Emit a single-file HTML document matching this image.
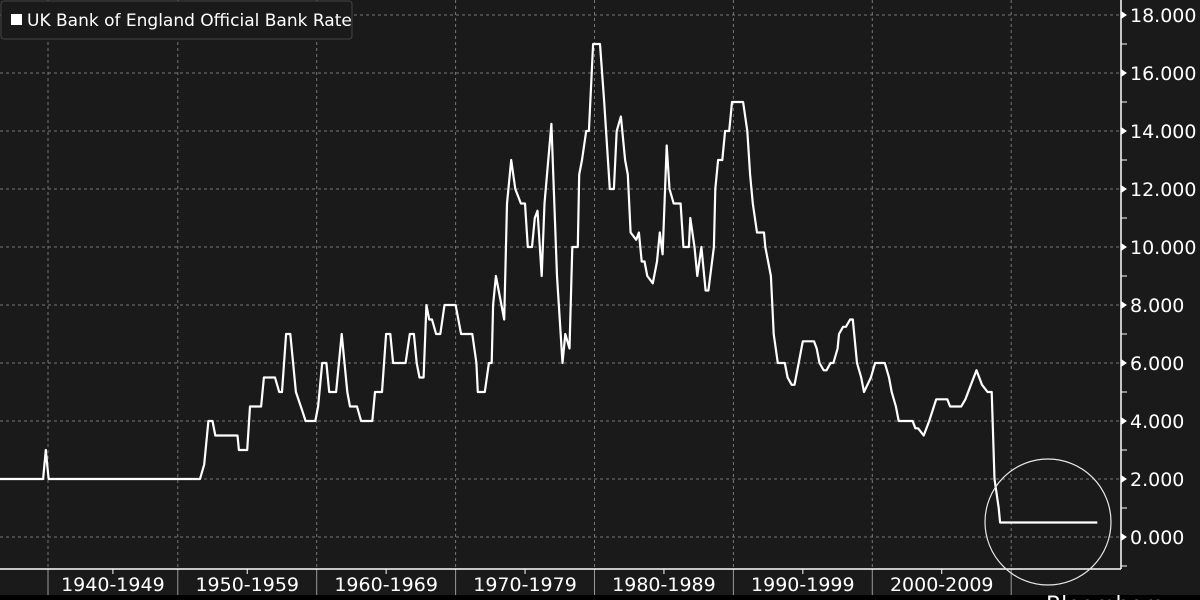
<!DOCTYPE html>
<html><head><meta charset="utf-8"><style>
html,body{margin:0;padding:0;background:#1a1a1a;width:1200px;height:600px;overflow:hidden}
svg{display:block;font-family:"DejaVu Sans","Liberation Sans",sans-serif}
</style></head><body>
<svg id="chart" width="1200" height="600">
<rect x="0" y="0" width="1200" height="600" fill="#1a1a1a"/>
<g id="grid"></g>
<g id="axes"></g>
<path id="line" fill="none" stroke="#ffffff" stroke-width="2.2" stroke-linejoin="round"/>
<circle cx="1048" cy="522" r="63" fill="none" stroke="#e8e8e8" stroke-width="1.2"/>
<rect x="0" y="595" width="1200" height="5" fill="#000"/>
<text x="1046" y="612" fill="#fff" font-size="22">Bloomberg</text>
<g>
<rect x="1" y="1" width="351" height="38" rx="3" fill="#1a1a1a" stroke="#444"/>
<rect x="11" y="14" width="11" height="11" fill="#fff"/>
<text x="27" y="26" fill="#fff" font-size="17">UK Bank of England Official Bank Rate</text>
</g>
</svg>
<script>
const years=[1937.2,1940.3,1940.5,1940.7,1951.6,1951.9,1952.2,1952.5,1952.7,1954.3,1954.4,1955.0,1955.2,1956.0,1956.2,1957.0,1957.3,1957.5,1957.8,1958.1,1958.5,1959.0,1959.2,1959.9,1960.1,1960.4,1960.7,1960.9,1961.4,1961.8,1962.2,1962.4,1962.9,1963.2,1964.0,1964.2,1964.7,1965.0,1965.3,1965.5,1966.4,1966.7,1967.0,1967.2,1967.4,1967.7,1967.9,1968.1,1968.3,1968.6,1968.9,1969.2,1970.0,1970.4,1971.2,1971.5,1971.6,1972.1,1972.4,1972.6,1972.7,1972.9,1973.5,1973.7,1974.0,1974.3,1974.7,1975.0,1975.2,1975.5,1975.7,1975.9,1976.2,1976.4,1976.9,1977.3,1977.7,1977.9,1978.2,1978.4,1978.8,1978.9,1979.1,1979.4,1979.6,1979.9,1980.4,1980.7,1981.1,1981.4,1981.6,1981.9,1982.2,1982.4,1982.6,1983.0,1983.2,1983.4,1983.6,1983.8,1984.2,1984.5,1984.7,1984.9,1985.2,1985.4,1985.7,1986.2,1986.4,1986.8,1986.9,1987.2,1987.4,1987.7,1988.0,1988.2,1988.6,1988.7,1988.9,1989.2,1989.4,1989.7,1989.9,1990.7,1991.0,1991.2,1991.4,1991.7,1992.2,1992.3,1992.7,1992.9,1993.2,1993.7,1993.9,1994.2,1994.4,1994.7,1995.0,1995.8,1996.0,1996.2,1996.5,1996.7,1997.0,1997.2,1997.5,1997.6,1997.9,1998.1,1998.4,1998.6,1998.9,1999.2,1999.4,1999.9,2000.2,2000.9,2001.2,2001.4,2001.7,2001.9,2002.9,2003.1,2003.3,2003.7,2004.1,2004.6,2005.4,2005.6,2006.4,2006.7,2007.1,2007.5,2007.9,2008.3,2008.6,2008.8,2009.1,2009.2,2016.2];
const rates=[2,2,3,2,2,2.5,4,4,3.5,3.5,3,3,4.5,4.5,5.5,5.5,5,5,7,7,5,4.3,4,4,4.5,6,6,5,5,7,5,4.5,4.5,4,4,5,5,7,7,6,6,7,7,6,5.5,5.5,8,7.5,7.5,7,7,8,8,7,7,6,5,5,6,6,8,9,7.5,11.5,13,12,11.5,11.5,10,10,11,11.25,9,11.5,14.25,9,6,7,6.5,10,10,12.5,13,14,14,17,17,15,12,12,14,14.5,13,12.5,10.5,10.25,10.5,9.5,9.5,9,8.75,9.5,10.5,9.75,13.5,12,11.5,11.5,10,10,11,10,9,10,8.5,8.5,10,12,13,13,14,14,15,15,14,12.5,11.5,10.5,10.5,10,9,7,6,6,5.5,5.25,5.25,6,6.75,6.75,6.5,6,5.75,5.75,6,6,6.5,7,7.25,7.25,7.5,7.5,6,5.5,5,5.5,6,6,5.5,5,4.5,4,4,3.75,3.75,3.5,4,4.75,4.75,4.5,4.5,4.75,5.25,5.75,5.25,5,5,2,1,0.5,0.5];
const yTicks=[0,2,4,6,8,10,12,14,16,18];
const decades=[1940,1950,1960,1970,1980,1990,2000,2010];
const decadeLabels=["1940-1949","1950-1959","1960-1969","1970-1979","1980-1989","1990-1999","2000-2009"];
const NS="http://www.w3.org/2000/svg";
const X0=1937.2, PX=13.89, AX=1121, AY=569, XMIN=48;
const xs=y=>(y-X0)*PX;
const ys=v=>537-29*v;
function mk(t,a,p){const e=document.createElementNS(NS,t);for(const k in a)e.setAttribute(k,a[k]);p.appendChild(e);return e;}
const grid=document.getElementById('grid'),axes=document.getElementById('axes');
yTicks.forEach(v=>{
 const g=mk('line',{x1:0,x2:AX,y1:ys(v),y2:ys(v),stroke:'#777','stroke-dasharray':'3,3','stroke-width':1},grid);
 
 
 const a=mk('path',{d:`M${AX} ${ys(v)-4}L${AX+6} ${ys(v)}L${AX} ${ys(v)+4}Z`,fill:'#fff'},axes);
 
 
 const t=mk('text',{x:AX+9,y:ys(v)+7,fill:'#fff','font-size':19},axes);
 t.textContent=v.toFixed(3);
 
 
 const m=mk('line',{x1:AX,x2:AX+6,y1:ys(v+1),y2:ys(v+1),stroke:'#fff'},axes);
 
 
});
const mm=mk('line',{x1:AX,x2:AX+6,y1:ys(-1),y2:ys(-1),stroke:'#fff'},axes);


decades.forEach((d,i)=>{
 const x=Math.max(xs(d),XMIN);
 const g=mk('line',{x1:x,x2:x,y1:0,y2:AY,stroke:'#777','stroke-dasharray':'3,3'},grid);
 
 
 const s=mk('line',{x1:x,x2:x,y1:AY,y2:595,stroke:'#999'},axes);
 
 
 if(i<decadeLabels.length){
  const xn=xs(decades[i+1]);
  const mid=(x+xn)/2;
  const mt=mk('line',{x1:mid,x2:mid,y1:AY,y2:AY+5,stroke:'#fff'},axes);
  
  
  const t=mk('text',{x:mid,y:AY+22,fill:'#fff','font-size':19,'text-anchor':'middle'},axes);
  t.textContent=decadeLabels[i];
  
  
 }
});
const xa=mk('line',{x1:0,x2:AX,y1:AY,y2:AY,stroke:'#fff','stroke-width':1.5},axes);


const ya=mk('line',{x1:AX,x2:AX,y1:0,y2:AY,stroke:'#fff','stroke-width':1.5},axes);


document.getElementById('line').setAttribute('d',years.map((y,i)=>(i?'L':'M')+xs(y).toFixed(1)+' '+ys(rates[i]).toFixed(1)).join(''));
</script>
</body></html>
